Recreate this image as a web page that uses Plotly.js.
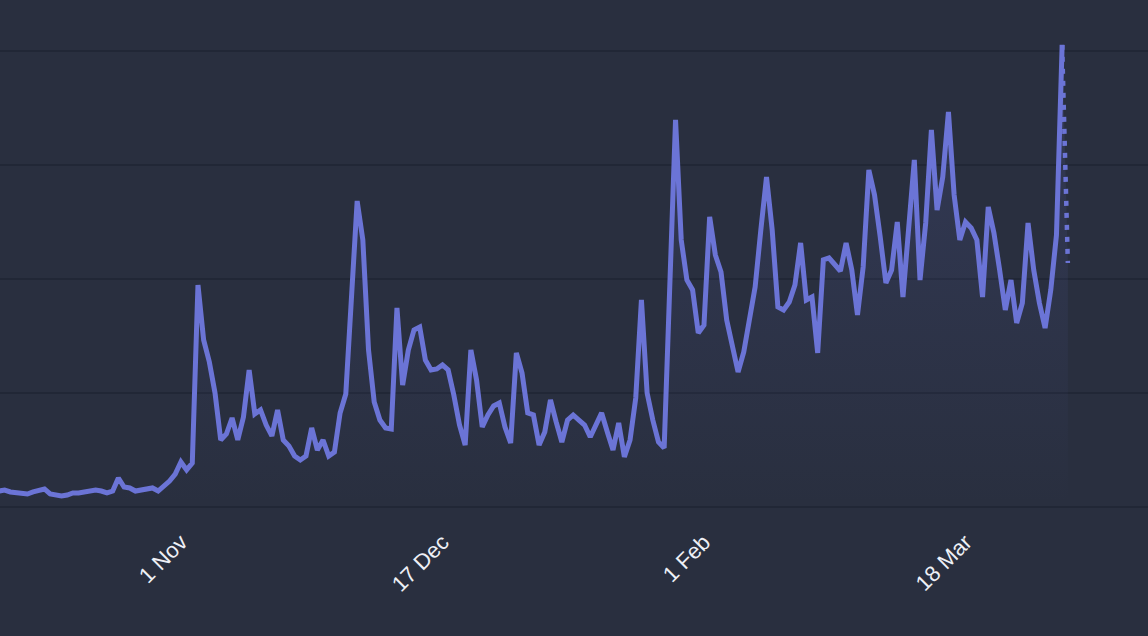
<!DOCTYPE html>
<html>
<head>
<meta charset="utf-8">
<script src="https://cdn.plot.ly/plotly-3.0.1.min.js"></script>
<style>
  html, body { margin: 0; padding: 0; background: #292f3f; }
  #chart { width: 1148px; height: 636px; }
</style>
</head>
<body>
<div id="chart"></div>
<script>
// Daily activity, first day of the series and its daily values
const startDate = '2023-09-30';
const dailyValues = [
  14.0, 14.9, 13.2, 12.3, 12.3, 11.4, 13.2, 14.9, 15.8, 11.4,
  10.5, 9.6, 10.5, 12.3, 12.3, 13.2, 13.2, 14.9, 14.0, 12.3,
  14.0, 25.4, 17.5, 16.7, 14.0, 14.9, 16.7, 16.7, 14.0, 18.4,
  22.8, 28.9, 39.5, 32.5, 38.6, 194.7, 146.5, 127.2, 100.0, 58.8,
  64.0, 78.1, 58.8, 78.9, 120.2, 81.6, 85.1, 71.9, 62.3, 85.1,
  58.8, 53.5, 44.7, 41.2, 44.7, 69.3, 50.0, 58.8, 44.7, 48.2,
  82.5, 99.1, 181.6, 268.4, 234.2, 137.7, 92.1, 76.3, 69.3, 68.4,
  174.6, 107.0, 137.7, 155.3, 157.9, 128.9, 120.2, 121.1, 124.6, 120.2,
  98.2, 71.9, 54.4, 137.7, 111.4, 70.2, 80.7, 88.6, 91.2, 70.2,
  56.1, 135.1, 117.5, 82.5, 80.7, 54.4, 65.8, 93.9, 74.6, 57.0,
  76.3, 80.7, 76.3, 71.9, 61.4, 71.9, 82.5, 65.8, 50.0, 73.7,
  43.9, 58.8, 95.6, 181.6, 100.0, 76.3, 57.0, 51.8, 190.4, 339.5,
  234.2, 199.1, 190.4, 152.6, 159.6, 254.4, 221.1, 206.1, 164.0, 142.1,
  118.4, 136.0, 164.0, 193.0, 243.0, 289.5, 243.0, 175.4, 172.8, 179.8,
  194.7, 231.6, 181.6, 184.2, 135.1, 216.7, 218.4, 213.2, 207.0, 231.6,
  207.9, 168.4, 210.5, 295.6, 273.7, 236.8, 196.5, 207.9, 250.0, 184.2,
  243.0, 304.4, 199.1, 249.1, 330.7, 260.5, 289.5, 346.5, 273.7, 234.2,
  250.0, 244.7, 234.2, 184.2, 263.2, 240.4, 207.9, 172.8, 199.1, 161.4,
  178.9, 249.1, 207.9, 178.9, 157.0, 190.4, 238.6, 405.3
];
// Current day, still in progress
const partialValue = 214.0;

const tickDates = ['2023-11-01', '2023-12-17', '2024-02-01', '2024-03-18'];
const tickLabels = ['1 Nov', '17 Dec', '1 Feb', '18 Mar'];

const DAY = 86400000;
const t0 = Date.parse(startDate + 'T00:00:00Z');
const iso = ms => new Date(ms).toISOString().slice(0, 10);

const dates = dailyValues.map((_, i) => iso(t0 + i * DAY));
const lastIdx = dailyValues.length - 1;
const partialDate = iso(t0 + (lastIdx + 1) * DAY);

const allDates = dates.concat([partialDate]);
const allValues = dailyValues.concat([partialValue]);

const lineColor = '#6b74d6';

const traces = [
  {
    // soft area beneath the line
    x: allDates, y: allValues, type: 'scatter', mode: 'none',
    fill: 'tozeroy',
    fillgradient: {
      type: 'vertical',
      colorscale: [[0, 'rgba(107,116,214,0.0)'], [1, 'rgba(107,116,214,0.16)']]
    },
    hoverinfo: 'skip', showlegend: false
  },
  {
    x: dates, y: dailyValues, type: 'scatter', mode: 'lines',
    line: { color: lineColor, width: 5, shape: 'linear' },
    showlegend: false
  },
  {
    // last, incomplete day drawn dotted
    x: [dates[lastIdx], partialDate], y: [dailyValues[lastIdx], partialValue],
    type: 'scatter', mode: 'lines',
    line: { color: lineColor, width: 4.5, dash: '5px,7px' },
    showlegend: false
  }
];

const layout = {
  width: 1148, height: 636,
  margin: { l: 0, r: 0, t: 0, b: 129, pad: 0 },
  paper_bgcolor: '#292f3f',
  plot_bgcolor: '#292f3f',
  showlegend: false,
  xaxis: {
    type: 'date',
    range: [t0 + 0.18 * DAY, t0 + 202.1 * DAY].map(v => new Date(v).toISOString()),
    showgrid: false, zeroline: false, showline: false,
    tickmode: 'array', tickvals: tickDates, ticktext: tickLabels,
    tickangle: -45, ticks: '',
    ticklabelstandoff: 17,
    tickfont: { family: 'Liberation Sans, Arial, sans-serif', size: 22, color: '#eef0f6' },
    automargin: false
  },
  yaxis: {
    range: [0, 444.7],
    dtick: 100, tick0: 0,
    showgrid: true, gridcolor: '#212736', gridwidth: 1.5,
    zeroline: true, zerolinecolor: '#212736', zerolinewidth: 1.5,
    showticklabels: false, ticks: '', showline: false,
    automargin: false
  }
};

Plotly.newPlot('chart', traces, layout, { displayModeBar: false, staticPlot: true });
</script>
</body>
</html>
